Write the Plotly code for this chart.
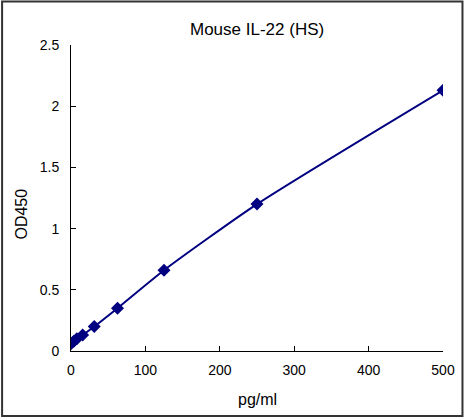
import plotly.graph_objects as go

# standard curve
conc = [0, 3.9, 7.8, 15.6, 31.25, 62.5, 125, 250, 500]
od450 = [0.06, 0.08, 0.10, 0.13, 0.20, 0.35, 0.66, 1.20, 2.13]

x_ticks = [0, 100, 200, 300, 400, 500]
y_ticks = [0, 0.5, 1, 1.5, 2, 2.5]
y_tick_text = ["0", "0.5", "1", "1.5", "2", "2.5"]

W, H = 465, 419
L, R, T, B = 70.5, 22, 45, 68
pw, ph = W - L - R, H - T - B

fig = go.Figure(go.Scatter(
    x=conc, y=od450,
    mode="lines+markers",
    line=dict(color="#000080", width=2, shape="spline", smoothing=0.6),
    marker=dict(symbol="diamond", size=10, color="#000080"),
))

fig.update_layout(
    width=W, height=H,
    margin=dict(l=L, r=R, t=T, b=B, autoexpand=False),
    paper_bgcolor="white", plot_bgcolor="white",
    showlegend=False,
    font=dict(family="Liberation Sans, Arial", size=14, color="black"),
    annotations=[
        dict(text="Mouse IL-22 (HS)", x=0.5, y=(H - 30 - B) / ph, xref="paper", yref="paper",
             showarrow=False, font=dict(size=17), xanchor="center", yanchor="middle"),
        dict(text="pg/ml", x=(257 - L) / pw, y=-(400 - T - ph) / ph, xref="paper", yref="paper",
             showarrow=False, font=dict(size=16), xanchor="center", yanchor="middle"),
        dict(text="OD450", x=(20 - L) / pw, y=(H - 214 - B) / ph, xref="paper", yref="paper",
             showarrow=False, font=dict(size=16), textangle=-90, xanchor="center", yanchor="middle"),
    ],
    shapes=[
        dict(type="rect", xref="paper", yref="paper",
             x0=(1.5 - L) / pw, x1=(462.5 - L) / pw,
             y0=(H - 416 - B) / ph, y1=(H - 1.5 - B) / ph,
             line=dict(color="#333333", width=2)),
    ],
)

fig.update_xaxes(range=[0, 500], tickvals=x_ticks, showline=True, linecolor="black", linewidth=1,
                 ticks="inside", ticklen=5, tickcolor="black", showgrid=False, zeroline=False,
                 tickfont=dict(size=14), ticklabelstandoff=6)
fig.update_yaxes(range=[0, 2.5], tickvals=y_ticks, ticktext=y_tick_text, showline=True,
                 linecolor="black", linewidth=1, ticks="inside", ticklen=5, tickcolor="black",
                 showgrid=False, zeroline=False, tickfont=dict(size=14), ticklabelstandoff=8)

# drop the page's default body margin so the figure sits at the window's corner
fig.write_html("out.html", config={"displayModeBar": False},
               post_script="document.body.style.margin='0';")
